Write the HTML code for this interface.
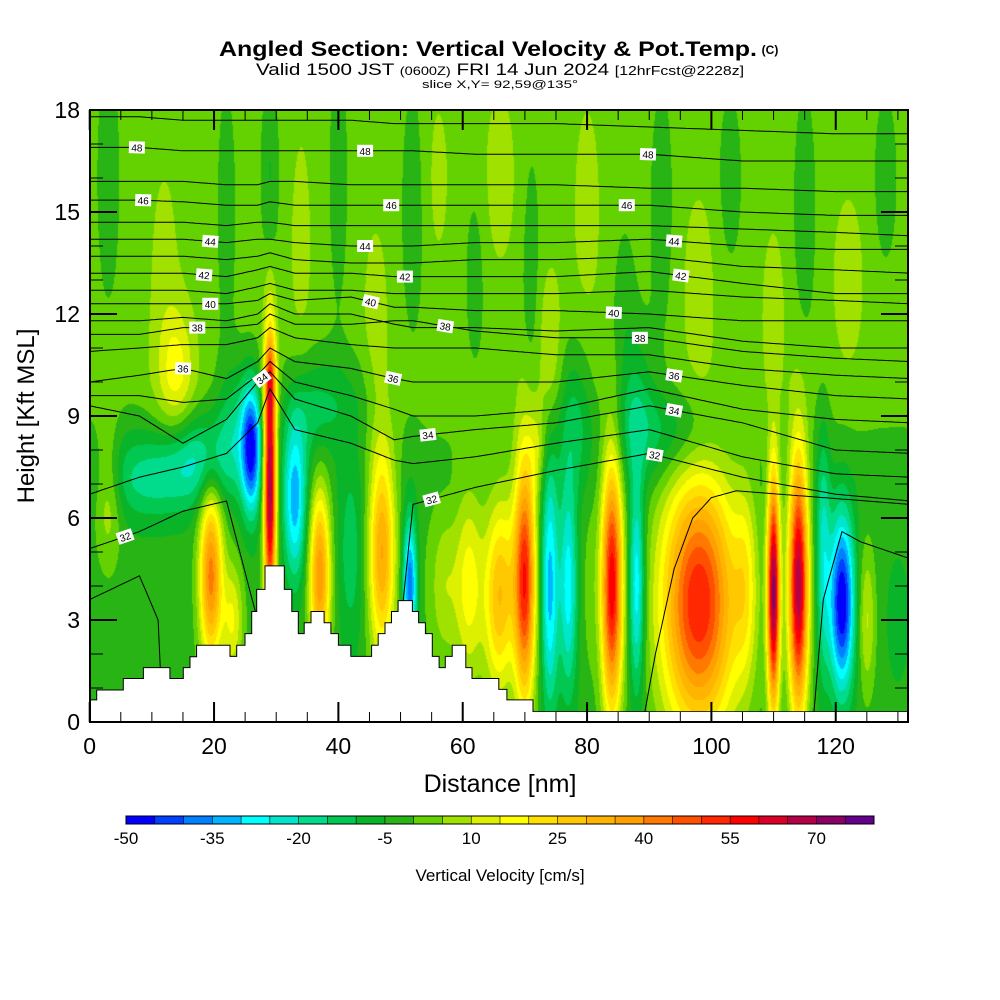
<!DOCTYPE html>
<html><head><meta charset="utf-8"><style>
html,body{margin:0;padding:0;background:#fff;width:1000px;height:1000px;overflow:hidden}
#wrap{position:relative;width:1000px;height:1000px}
#field{position:absolute;left:90px;top:110px}
svg{position:absolute;left:0;top:0}
text{font-family:"Liberation Sans",Arial,sans-serif}
</style></head><body>
<div id="wrap">
<canvas id="field" width="818" height="602"></canvas>
<svg id="svg" width="1000" height="1000">
<g>
<text x="488" y="56" font-size="21" font-weight="bold" text-anchor="middle" textLength="538" lengthAdjust="spacingAndGlyphs">Angled Section: Vertical Velocity &amp; Pot.Temp.</text>
<text x="770" y="54" font-size="12" font-weight="bold" text-anchor="middle">(C)</text>
<text x="256" y="75" font-size="17" textLength="488" lengthAdjust="spacingAndGlyphs">Valid 1500 JST <tspan font-size="12">(0600Z)</tspan> FRI 14 Jun 2024 <tspan font-size="13">[12hrFcst@2228z]</tspan></text>
<text x="500" y="88" font-size="11" text-anchor="middle" textLength="156" lengthAdjust="spacingAndGlyphs">slice X,Y= 92,59@135°</text>
</g>
<g id="contours"></g>
<g id="terrain"></g>
<g id="axes"></g>
<g id="labels"></g>
<g id="cbar"></g>
<text x="500" y="792" font-size="25" text-anchor="middle">Distance [nm]</text>
<text transform="translate(34,416) rotate(-90)" font-size="24" text-anchor="middle">Height [Kft MSL]</text>
<text x="500" y="881" font-size="17" text-anchor="middle">Vertical Velocity [cm/s]</text>
</svg>
</div>
<script>
// ---- data ----
var colorBins = ["#0000ff","#0040ff","#0080ff","#00b4ff","#00ffff","#00e6cc","#00dc8c","#00c850","#0ab428","#28b414","#64d200","#a0e100","#dcf000","#ffff00","#ffe100","#ffc800","#ffb400","#ffa000","#ff7800","#ff5000","#ff2800","#ff0000","#dc0028","#b40046","#8c0064","#64008c"];
var colorTickLabels = ["-50","-35","-20","-5","10","25","40","55","70"];
var xTicks = [0,20,40,60,80,100,120];
var yTicks = [0,3,6,9,12,15,18];
var baseH = [0,7,10,18];
var baseV = [-3,-3,2.5,2.5];
var blobX  = [3,12,22,29,34,40,46,52,56,62,66,71,74,80,86,92,98,103,110,115,122,128, 14,4,10,18,24,26,29,29,33,35,40,37,42,47,51.5,3,19.5,23,57,61,65.5,70,67,74,77,80.5,84,88,88,98,105.5,110,114,118,121,125,130,93,78,72,62];
var blobY  = [16,13,15,16,14,16,12,15,16,13,16,13,11,15,12,15,13,16,12,15,13,16, 10.3,8,7.2,7.8,8.8,8,7,10,6.5,9,9.5,4.3,5,5,4,6.8,4.3,3,4,4,3.5,4.2,4,4,4,4,4,4,9.5,3.5,4,3.8,4,5,3.5,3,3,8.5,9,8,4];
var blobAmp= [-5,4,-5,-8,4,-5,5,-5,4,-5,5,-5,8,4,-5,-5,5,-5,5,-5,5,-5, 14,-3,-14,-16,-14,-40,75,20,-30,-10,-8,42,-10,38,-38,13,45,18,8,15,20,55,12,-30,-25,5,62,-28,-10,58,15,75,72,-18,-48,14,-3,-12,-12,10,6];
var blobSX = [1.5,2,1.2,1,1.5,1.2,1.5,1.5,1.5,1.2,2,1.2,1.3,2,1.5,1.5,2,1.5,1.5,1.5,2,1.5, 2,3,5,4,2.5,1.1,0.7,0.6,1.3,3,4,1.2,1.5,1.5,0.8,1.5,1.3,1.2,1.5,1.5,1.5,1.2,1.5,1,1,1,1.2,0.9,2,4.3,1.3,0.7,1.1,0.8,1.4,1,2,6,2,1,6];
var blobSY = [3,3,3,2,3,3,2,3,2,2,2,3,1.6,3,2,3,2,2,2,3,2,2, 1.3,1,0.9,0.9,1.3,1.3,2.8,0.8,1.6,1.2,1,1.8,2,2.2,1.4,1.5,1.8,1.2,1.5,2,2,2.6,2,2.5,2.2,2,2.6,2.2,1.5,2.7,2,2.4,2.6,2.5,1.8,1.5,2,1,1.5,1,2];
var terrainX = [0,1.12,5.41,8.63,12.9,15.06,16.13,17.2,22.56,23.64,24.98,26.05,26.86,28.2,31.3,32.5,33.56,34.5,35.6,37.7,38.8,40.0,42.0,45.35,46.4,47.5,48.55,49.6,51.9,52.9,54.0,55.1,56.2,57.2,58.3,60.5,61.5,64.4,65.8,67.1,71.3];
var terrainH = [0.65,0.94,1.28,1.6,1.28,1.6,1.92,2.26,1.93,2.26,2.6,3.25,3.9,4.59,3.9,3.25,2.6,2.92,3.25,2.92,2.6,2.26,1.93,2.26,2.6,2.92,3.25,3.57,3.25,2.92,2.6,1.93,1.6,1.93,2.26,1.6,1.28,1.28,0.96,0.65,0.3];
var thetaLevels = [49,48,47,46,45,44,43,42,41,40,39,38,37,36,35,34,33,32];
var thetaX = [0,8,15,22,27,29,33,42,49,52,62,75,90,105,120,132];
var thetaH = [
[17.8,17.8,17.7,17.7,17.7,17.7,17.7,17.7,17.6,17.6,17.6,17.6,17.5,17.4,17.3,17.3],
[16.9,16.9,16.8,16.8,16.8,16.8,16.8,16.8,16.8,16.8,16.7,16.7,16.7,16.5,16.5,16.5],
[15.9,15.9,15.9,15.8,15.8,15.9,15.9,15.8,15.8,15.8,15.8,15.8,15.7,15.7,15.6,15.6],
[15.35,15.35,15.3,15.2,15.2,15.3,15.2,15.2,15.2,15.2,15.2,15.2,15.2,15.0,14.9,14.9],
[14.7,14.7,14.7,14.6,14.7,14.7,14.6,14.6,14.6,14.6,14.6,14.6,14.6,14.5,14.4,14.3],
[14.2,14.2,14.2,14.1,14.2,14.2,14.1,14.0,14.0,14.0,14.1,14.1,14.2,14.0,13.9,13.9],
[13.7,13.7,13.7,13.6,13.7,13.8,13.6,13.5,13.5,13.5,13.6,13.6,13.7,13.4,13.3,13.2],
[13.2,13.2,13.2,13.1,13.3,13.4,13.2,13.2,13.1,13.1,13.1,13.1,13.25,12.9,12.6,12.6],
[12.7,12.7,12.7,12.6,12.8,12.9,12.7,12.7,12.6,12.6,12.6,12.6,12.7,12.5,12.4,12.3],
[12.3,12.3,12.3,12.3,12.4,12.6,12.4,12.5,12.2,12.2,12.1,12.1,12.0,11.8,11.8,11.8],
[11.8,11.8,11.9,11.8,12.0,12.3,12.0,12.0,11.7,11.6,11.6,11.5,11.6,11.2,11.0,11.0],
[11.4,11.4,11.6,11.6,11.7,12.0,11.7,11.7,11.8,11.8,11.5,11.3,11.3,10.9,10.7,10.6],
[10.9,11.0,11.1,11.1,11.3,11.6,11.3,11.1,11.0,11.0,11.0,10.8,10.8,10.4,10.2,10.1],
[10.0,10.2,10.4,10.1,10.6,11.0,10.6,10.4,10.1,10.0,10.0,10.0,10.3,9.9,9.6,9.5],
[9.6,9.6,9.4,9.5,10.2,10.6,10.0,9.6,9.2,9.0,9.0,9.2,9.8,9.2,8.9,8.8],
[9.3,9.0,8.2,8.9,10.0,10.3,9.5,9.0,8.3,8.4,8.6,8.8,9.3,8.8,8.0,7.9],
[6.7,7.2,7.5,7.9,8.8,9.8,8.6,8.2,7.7,7.6,7.8,8.2,8.6,7.8,7.3,7.2],
[5.1,5.6,6.2,6.5,3.0,1.0,1.0,1.0,1.0,6.4,6.9,7.4,7.9,7.2,6.7,6.5]];
var lowContourX = [0,8,11,12,88,91,94,97,100,104,132];
var lowContourH = [3.6,4.3,3.0,-1,-1,2.0,4.5,6.0,6.6,6.8,6.4];
var lowContour2X = [115.5,116.5,118,121,124,132];
var lowContour2H = [-1,0.3,3.6,5.6,5.3,4.8];
var labelLevel = [48,48,48,46,46,46,44,44,44,42,42,42,40,40,40,38,38,38,36,36,36,34,34,34,32,32,32];
var labelX = [7.6,44.3,89.8,8.6,48.5,86.4,19.4,44.3,94,18.4,50.7,95.1,19.4,45.2,84.3,17.3,57.2,88.5,15,48.8,94,27.7,54.4,94,5.7,55,90.9];

// ---- scales ----
function X(nm){return 89.7+6.217*nm;}
function Y(k){return 722-34*k;}
function interp(xs,hs,x){
  if(x<=xs[0])return hs[0];
  for(var i=1;i<xs.length;i++){ if(x<=xs[i]){var t=(x-xs[i-1])/(xs[i]-xs[i-1]);return hs[i-1]+t*(hs[i]-hs[i-1]);} }
  return hs[hs.length-1];
}
var NS="http://www.w3.org/2000/svg";
function mk(tag,attrs,parent){var e=document.createElementNS(NS,tag);for(var k in attrs)e.setAttribute(k,attrs[k]);parent.appendChild(e);return e;}

// ---- field ----
(function(){
  var cv=document.getElementById('field'),ctx=cv.getContext('2d');
  var W=818,H=602,img=ctx.createImageData(W,H),d=img.data;
  var rgb=colorBins.map(function(c){return [parseInt(c.substr(1,2),16),parseInt(c.substr(3,2),16),parseInt(c.substr(5,2),16)];});
  var nb=blobX.length,fx=[],fy=[];
  for(var b=0;b<nb;b++){
    var ax=new Float32Array(W),ay=new Float32Array(H);
    for(var c=0;c<W;c++){var nm=(90+c+0.5-89.7)/6.217;var dx=(nm-blobX[b])/blobSX[b];ax[c]=Math.exp(-0.5*dx*dx);}
    for(var r=0;r<H;r++){var k=(722-(110+r+0.5))/34;var dy=(k-blobY[b])/blobSY[b];ay[r]=blobAmp[b]*Math.exp(-0.5*dy*dy);}
    fx.push(ax);fy.push(ay);
  }
  for(var r=0;r<H;r++){
    var k=(722-(110+r+0.5))/34,base=interp(baseH,baseV,k);
    for(var c=0;c<W;c++){
      var v=base;
      for(var b=0;b<nb;b++)v+=fx[b][c]*fy[b][r];
      var i=Math.floor((v+50)/5);if(i<0)i=0;if(i>25)i=25;
      var p=(r*W+c)*4;d[p]=rgb[i][0];d[p+1]=rgb[i][1];d[p+2]=rgb[i][2];d[p+3]=255;
    }
  }
  ctx.putImageData(img,0,0);
})();

// ---- contours ----
var svg=document.getElementById('svg');
var defs=mk('defs',{},svg);
var cp=mk('clipPath',{id:'plotclip'},defs);
mk('rect',{x:90,y:110,width:818,height:602},cp);
var cg=document.getElementById('contours');
cg.setAttribute('clip-path','url(#plotclip)');
function linePath(xs,hs){
  var s='',a=Math.max(0,xs[0]),b=Math.min(132.5,xs[xs.length-1]);
  if(xs[0]<=0)a=0; if(xs[xs.length-1]>=132)b=132.5;
  for(var nm=a;nm<=b+0.001;nm+=0.5){s+=(s?'L':'M')+X(nm).toFixed(1)+','+Y(interp(xs,hs,nm)).toFixed(1);}
  return s;
}
thetaLevels.forEach(function(lv,i){
  var p=mk('path',{d:linePath(thetaX,thetaH[i]),fill:'none',stroke:'#000','stroke-width':1},cg);
  
  
});
var lp=mk('path',{d:linePath(lowContourX,lowContourH),fill:'none',stroke:'#000','stroke-width':1},cg);


var lp2=mk('path',{d:linePath(lowContour2X,lowContour2H),fill:'none',stroke:'#000','stroke-width':1},cg);



// ---- terrain ----
(function(){
  var tg=document.getElementById('terrain');
  var s='M'+X(0)+','+722;
  for(var i=0;i<terrainX.length;i++){
    var x0=Math.max(X(terrainX[i]),90),x1=(i+1<terrainX.length)?X(terrainX[i+1]):908;
    s+='L'+x0.toFixed(1)+','+Y(terrainH[i]).toFixed(1)+'L'+x1.toFixed(1)+','+Y(terrainH[i]).toFixed(1);
  }
  s+='L908,722Z';
  var t=mk('path',{d:s,fill:'#fff',stroke:'#000','stroke-width':1},tg);
  
  
  mk('rect',{x:90,y:712,width:818,height:10,fill:'#fff'},tg);
})();

// ---- axes ----
(function(){
  var ag=document.getElementById('axes');
  var fr=mk('rect',{x:90,y:110,width:818,height:612,fill:'none',stroke:'#000','stroke-width':2},ag);
  
  
  for(var k=0;k<=18;k++){
    var L=(k%3===0)?27:13,y=Y(k);
    mk('line',{x1:90,y1:y,x2:90+L,y2:y,stroke:'#000','stroke-width':k%3===0?2:1},ag);
    mk('line',{x1:908,y1:y,x2:908-L,y2:y,stroke:'#000','stroke-width':k%3===0?2:1},ag);
  }
  for(var nm=0;nm<=130;nm+=5){
    var L2=(nm%20===0)?20:10,x=X(nm);
    mk('line',{x1:x,y1:722,x2:x,y2:722-L2,stroke:'#000','stroke-width':nm%20===0?2:1},ag);
    mk('line',{x1:x,y1:110,x2:x,y2:110+L2,stroke:'#000','stroke-width':nm%20===0?2:1},ag);
  }
  yTicks.forEach(function(v){
    var t=mk('text',{x:80,y:Y(v)+8,'font-size':23,'text-anchor':'end'},ag);t.textContent=v;
    
    
  });
  xTicks.forEach(function(v){
    var t=mk('text',{x:X(v),y:754,'font-size':23,'text-anchor':'middle'},ag);t.textContent=v;
    
    
  });
})();

// ---- contour labels ----
(function(){
  var lg=document.getElementById('labels');
  labelLevel.forEach(function(lv,i){
    var row=thetaH[thetaLevels.indexOf(lv)],nm=labelX[i];
    var x=X(nm),y=Y(interp(thetaX,row,nm));
    var dy=Y(interp(thetaX,row,nm+1.5))-Y(interp(thetaX,row,nm-1.5));
    var ang=Math.atan2(dy,X(nm+1.5)-X(nm-1.5))*180/Math.PI;
    var g=mk('g',{transform:'translate('+x.toFixed(1)+','+y.toFixed(1)+') rotate('+ang.toFixed(1)+')'},lg);
    
    
    mk('rect',{x:-8,y:-6,width:16,height:12,fill:'#fff'},g);
    var t=mk('text',{x:0,y:4,'font-size':10,'text-anchor':'middle'},g);t.textContent=lv;
  });
})();

// ---- colorbar ----
(function(){
  var cb=document.getElementById('cbar'),x0=126,w=748/colorBins.length;
  colorBins.forEach(function(c,i){
    var r=mk('rect',{x:(x0+i*w).toFixed(2),y:816,width:(w+0.3).toFixed(2),height:8,fill:c},cb);
    
    
  });
  mk('rect',{x:x0,y:816,width:748,height:8,fill:'none',stroke:'#000','stroke-width':1},cb);
  for(var i=1;i<colorBins.length;i++)mk('line',{x1:x0+i*w,y1:816,x2:x0+i*w,y2:824,stroke:'#000','stroke-width':0.6},cb);
  colorTickLabels.forEach(function(s,i){
    var t=mk('text',{x:(x0+i*3*w).toFixed(1),y:844,'font-size':17,'text-anchor':'middle'},cb);t.textContent=s;
    
    
  });
})();
</script>
</body></html>
